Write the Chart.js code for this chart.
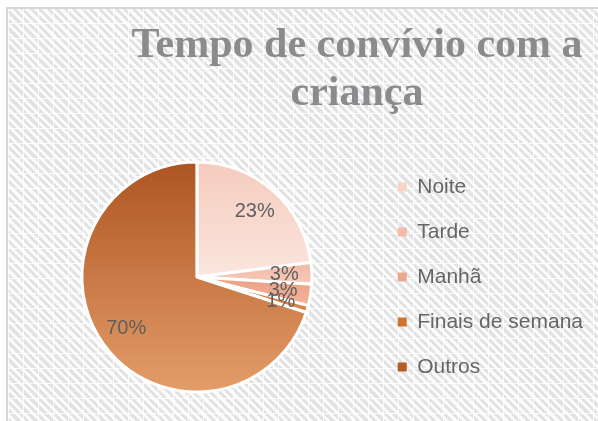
<!DOCTYPE html>
<html><head><meta charset="utf-8">
<script src="https://cdn.jsdelivr.net/npm/chart.js@4.4.0/dist/chart.umd.min.js"></script>
<style>
html,body{margin:0;padding:0;background:#fff;}
#wrap{position:relative;width:598px;height:421px;overflow:hidden;background:#fff;}
#bg{position:absolute;left:6px;top:7px;width:600px;height:420px;border-left:2px solid #d6d6d6;border-top:2px solid #d6d6d6;
background-color:#fff;
background-image:
 linear-gradient(90deg, rgba(255,255,255,0.85) 1px, transparent 1px),
 linear-gradient(0deg, rgba(255,255,255,0.85) 1px, transparent 1px),
 repeating-linear-gradient(45deg, #e1e2e4 0 3px, #fbfbfb 3px 6px);
background-size:15px 15px,15px 15px,auto;}
canvas{position:absolute;left:0;top:0;}
</style></head>
<body><div id="wrap"><div id="bg"></div><canvas id="c" width="598" height="421"></canvas></div>
<script>
const categories = ['Noite', 'Tarde', 'Manhã', 'Finais de semana', 'Outros'];
const values = [23, 3, 3, 1, 70];
const titleLines = ['Tempo de convívio com a', 'criança'];
const solidColors = ['#f6d4c8', '#f2bca8', '#eca88c', '#d2722f', '#b45d25'];
const gradTop = ['#f5cbbd', '#f1b8a3', '#eba083', '#d06f30', '#ad5522'];
const gradBottom = ['#fbe6df', '#f6cbbb', '#f2b59c', '#dc8850', '#e49d68'];
const R = 115;

function sliceGradient(c) {
  const chart = c.chart, area = chart.chartArea, i = c.dataIndex;
  if (!area || i === undefined) return solidColors[i] || '#ccc';
  const cx = (area.left + area.right) / 2, cy = (area.top + area.bottom) / 2;
  const total = values.reduce((a, b) => a + b, 0);
  let start = -Math.PI / 2;
  for (let k = 0; k < i; k++) start += values[k] / total * 2 * Math.PI;
  const end = start + values[i] / total * 2 * Math.PI;
  const ys = [cy, cy + R * Math.sin(start), cy + R * Math.sin(end)];
  for (const a of [-Math.PI / 2, Math.PI / 2, 3 * Math.PI / 2]) if (a >= start && a <= end) ys.push(cy + R * Math.sin(a));
  const y0 = Math.min(...ys), y1 = Math.max(...ys);
  const g = chart.ctx.createLinearGradient(0, y0, 0, y1 + 0.01);
  g.addColorStop(0, gradTop[i]); g.addColorStop(1, gradBottom[i]);
  return g;
}

const titlePlugin = {
  id: 'customTitle',
  afterDraw(chart) {
    const ctx = chart.ctx;
    ctx.save();
    ctx.font = 'bold 42px "Liberation Serif", "Times New Roman", serif';
    ctx.fillStyle = '#8a8b8d';
    ctx.textAlign = 'center';
    ctx.textBaseline = 'alphabetic';
    ctx.fillText(titleLines[0], 357, 57);
    ctx.fillText(titleLines[1], 357, 105);
    ctx.restore();
  }
};

const labelPlugin = {
  id: 'sliceLabels',
  afterDatasetsDraw(chart) {
    const ctx = chart.ctx;
    const meta = chart.getDatasetMeta(0);
    const total = values.reduce((a, b) => a + b, 0);
    ctx.save();
    ctx.font = '20px "Liberation Sans", Arial, sans-serif';
    ctx.fillStyle = '#5f5f5f';
    ctx.textAlign = 'center';
    ctx.textBaseline = 'middle';
    meta.data.forEach((arc, i) => {
      const mid = (arc.startAngle + arc.endAngle) / 2;
      const d = arc.outerRadius * 0.76;
      const x = arc.x + Math.cos(mid) * d;
      const y = arc.y + Math.sin(mid) * d;
      ctx.fillText(Math.round(values[i] / total * 100) + '%', x, y);
    });
    ctx.restore();
  }
};

new Chart(document.getElementById('c'), {
  type: 'pie',
  data: {
    labels: categories,
    datasets: [{
      data: values,
      backgroundColor: sliceGradient,
      borderColor: '#ffffff',
      borderWidth: 3
    }]
  },
  options: {
    responsive: false,
    animation: false,
    devicePixelRatio: 1,
    radius: R,
    layout: { padding: { top: 133, bottom: 0, left: 20, right: 5 } },
    plugins: {
      title: { display: false },
      tooltip: { enabled: false },
      legend: {
        position: 'right',
        align: 'center',
        labels: {
          boxWidth: 9,
          boxHeight: 9,
          padding: 24,
          color: '#666666',
          font: { family: '"Liberation Sans", Arial, sans-serif', size: 21 },
          generateLabels: () => categories.map((t, i) => ({
            text: t, fillStyle: solidColors[i], strokeStyle: solidColors[i],
            lineWidth: 0, hidden: false, index: i, fontColor: '#666666'
          }))
        }
      }
    }
  },
  plugins: [titlePlugin, labelPlugin]
});
</script>
</body></html>
